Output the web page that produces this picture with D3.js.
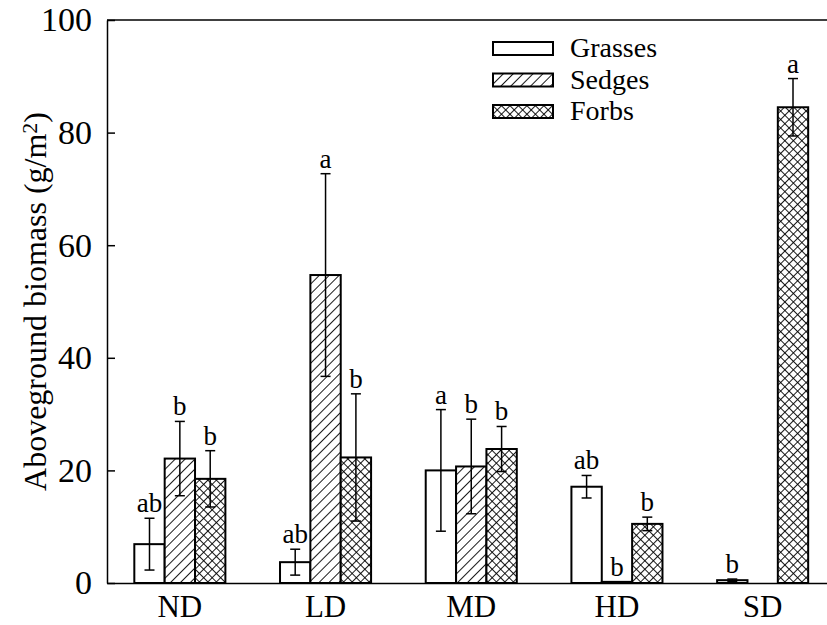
<!DOCTYPE html>
<html>
<head>
<meta charset="utf-8">
<script src="https://cdn.jsdelivr.net/npm/d3@7"></script>
<style>
    body { margin: 0; background: #fff; }
</style>
</head>
<body>
<div id="chart"></div>
<script>
var groups = ["ND", "LD", "MD", "HD", "SD"];
var series = ["Grasses", "Sedges", "Forbs"];
var grasses = [6.9, 3.7, 20.0, 17.1, 0.5];
var sedges = [22.1, 54.7, 20.7, 0.2, 0];
var forbs = [18.5, 22.3, 23.8, 10.5, 84.5];
var grassesSE = [4.6, 2.3, 10.8, 2.0, 0.2];
var sedgesSE = [6.6, 18.0, 8.4, 0, 0];
var forbsSE = [5.0, 11.3, 4.0, 1.2, 5.1];
var grassesLetters = ["ab", "ab", "a", "ab", "b"];
var sedgesLetters = ["b", "a", "b", "b", ""];
var forbsLetters = ["b", "b", "b", "b", "a"];
var yTicks = [0, 20, 40, 60, 80, 100];

var W = 827, H = 625;
var FONT = "'Liberation Serif', 'Times New Roman', serif";
var margin = { top: 20, left: 107 },
    plotBottom = 583,
    step = 145.7;

var svg = d3.select("#chart").append("svg")
    .attr("width", W)
    .attr("height", H);

// hatch patterns
var defs = svg.append("defs");
var p1 = defs.append("pattern")
    .attr("id", "hatch")
    .attr("patternUnits", "userSpaceOnUse")
    .attr("width", 7).attr("height", 7)
    .attr("patternTransform", "rotate(45)");
p1.append("rect").attr("width", 7).attr("height", 7).attr("fill", "#fff");
p1.append("line").attr("x1", 0).attr("y1", 0).attr("x2", 0).attr("y2", 7)
    .attr("stroke", "#000").attr("stroke-width", 1.8);

var p2 = defs.append("pattern")
    .attr("id", "cross")
    .attr("patternUnits", "userSpaceOnUse")
    .attr("width", 6).attr("height", 6)
    .attr("patternTransform", "rotate(45)");
p2.append("rect").attr("width", 6).attr("height", 6).attr("fill", "#fff");
p2.append("line").attr("x1", 0).attr("y1", 0).attr("x2", 0).attr("y2", 6)
    .attr("stroke", "#000").attr("stroke-width", 1.8);
p2.append("line").attr("x1", 0).attr("y1", 0).attr("x2", 6).attr("y2", 0)
    .attr("stroke", "#000").attr("stroke-width", 1.8);

var fills = { Grasses: "#fff", Sedges: "url(#hatch)", Forbs: "url(#cross)" };

var x0 = d3.scaleBand()
    .domain(groups)
    .range([margin.left, margin.left + step * groups.length])
    .paddingInner(0.375)
    .paddingOuter(0.1875);

var x1 = d3.scaleBand()
    .domain(series)
    .range([0, x0.bandwidth()]);

var y = d3.scaleLinear()
    .domain([0, 100])
    .range([plotBottom, margin.top]);

// one flat table built from the arrays
var rows = [];
groups.forEach(function(g, i) {
    rows.push({ group: g, s: "Grasses", v: grasses[i], se: grassesSE[i], l: grassesLetters[i] });
    rows.push({ group: g, s: "Sedges", v: sedges[i], se: sedgesSE[i], l: sedgesLetters[i] });
    rows.push({ group: g, s: "Forbs", v: forbs[i], se: forbsSE[i], l: forbsLetters[i] });
});

// bars
svg.selectAll(".bar")
    .data(rows.filter(function(d) { return d.v > 0; }))
    .enter().append("rect")
    .attr("class", "bar")
    .attr("x", function(d) { return x0(d.group) + x1(d.s); })
    .attr("y", function(d) { return y(d.v); })
    .attr("width", x1.bandwidth())
    .attr("height", function(d) { return y(0) - y(d.v); })
    .attr("fill", function(d) { return fills[d.s]; })
    .attr("stroke", "#000")
    .attr("stroke-width", 2);

// error bars
var eb = rows.filter(function(d) { return d.se > 0; });
function cx(d) { return x0(d.group) + x1(d.s) + x1.bandwidth() / 2; }
svg.selectAll(".err")
    .data(eb)
    .enter().append("line")
    .attr("x1", cx).attr("x2", cx)
    .attr("y1", function(d) { return y(d.v - d.se); })
    .attr("y2", function(d) { return y(d.v + d.se); })
    .attr("stroke", "#000").attr("stroke-width", 1.5);
svg.selectAll(".capTop")
    .data(eb)
    .enter().append("line")
    .attr("x1", function(d) { return cx(d) - 5; })
    .attr("x2", function(d) { return cx(d) + 5; })
    .attr("y1", function(d) { return y(d.v + d.se); })
    .attr("y2", function(d) { return y(d.v + d.se); })
    .attr("stroke", "#000").attr("stroke-width", 1.5);
svg.selectAll(".capBot")
    .data(eb)
    .enter().append("line")
    .attr("x1", function(d) { return cx(d) - 5; })
    .attr("x2", function(d) { return cx(d) + 5; })
    .attr("y1", function(d) { return y(d.v - d.se); })
    .attr("y2", function(d) { return y(d.v - d.se); })
    .attr("stroke", "#000").attr("stroke-width", 1.5);

// significance letters
svg.selectAll(".letter")
    .data(rows.filter(function(d) { return d.l !== ""; }))
    .enter().append("text")
    .attr("x", cx)
    .attr("y", function(d) { return y(d.v + d.se) - 6; })
    .attr("text-anchor", "middle")
    .style("font-family", FONT)
    .style("font-size", "27px")
    .text(function(d) { return d.l; });

// Y axis, ticks inside
var yAxis = svg.append("g")
    .attr("transform", "translate(" + margin.left + ",0)")
    .call(d3.axisLeft(y).tickValues(yTicks).tickSizeInner(-8).tickSizeOuter(0).tickPadding(15));
yAxis.attr("font-family", null).attr("font-size", null);
yAxis.selectAll("text").style("font-family", FONT).style("font-size", "34px").attr("fill", "#000");
yAxis.selectAll("line").attr("stroke-width", 1.5);
yAxis.select(".domain").attr("stroke-width", 1.5);

// X axis
var xAxis = svg.append("g")
    .attr("transform", "translate(0," + plotBottom + ")")
    .call(d3.axisBottom(x0).tickSize(0).tickPadding(12));
xAxis.attr("font-family", null).attr("font-size", null);
xAxis.selectAll("text").style("font-family", FONT).style("font-size", "31px").attr("fill", "#000");
xAxis.select(".domain").attr("stroke-width", 1.5);

// top frame line
svg.append("line")
    .attr("x1", margin.left).attr("x2", W)
    .attr("y1", y(100)).attr("y2", y(100))
    .attr("stroke", "#000").attr("stroke-width", 1.5);

// Y title
var yt = svg.append("text")
    .attr("transform", "translate(46," + ((margin.top + plotBottom) / 2) + ") rotate(-90)")
    .attr("text-anchor", "middle")
    .style("font-family", FONT)
    .style("font-size", "32px");
yt.append("tspan").text("Aboveground biomass (g/m");
yt.append("tspan").attr("dy", "-0.4em").style("font-size", "22px").text("2");
yt.append("tspan").attr("dy", "0.27em").text(")");

// legend
var legend = svg.selectAll(".legend")
    .data(series)
    .enter().append("g")
    .attr("transform", function(d, i) { return "translate(493," + (42 + i * 31.5) + ")"; });
legend.append("rect")
    .attr("width", 60).attr("height", 13)
    .attr("fill", function(d) { return fills[d]; })
    .attr("stroke", "#000").attr("stroke-width", 2);
legend.append("text")
    .attr("x", 77).attr("y", 15)
    .style("font-family", FONT)
    .style("font-size", "28px")
    .text(function(d) { return d; });
</script>
</body>
</html>
